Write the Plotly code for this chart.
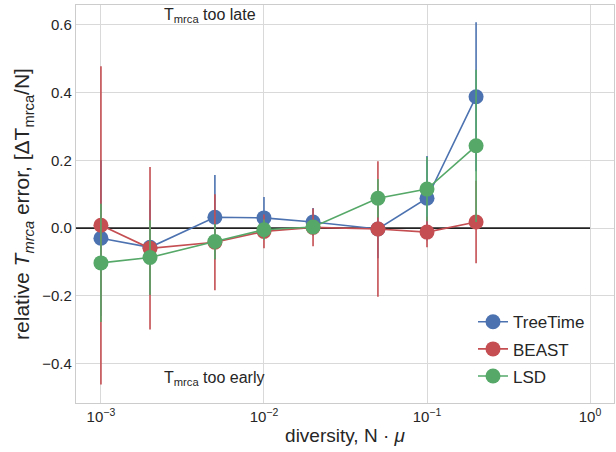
import plotly.graph_objects as go
import numpy as np

diversity = [0.001, 0.002, 0.005, 0.01, 0.02, 0.05, 0.1, 0.2]

treetime_mean = [-0.030, -0.057, 0.032, 0.030, 0.018, -0.003, 0.088, 0.388]
treetime_err = [0.230, 0.140, 0.125, 0.062, 0.041, 0.086, 0.125, 0.220]

beast_mean = [0.008, -0.060, -0.042, -0.010, 0.002, -0.003, -0.012, 0.018]
beast_err = [0.470, 0.240, 0.142, 0.050, 0.056, 0.200, 0.045, 0.122]

lsd_mean = [-0.103, -0.087, -0.040, -0.005, 0.003, 0.088, 0.115, 0.243]
lsd_err = [0.175, 0.110, 0.052, 0.030, 0.020, 0.057, 0.095, 0.225]

zero_line_x = [7e-4, 1.0]
zero_line_y = [0, 0]

series = [
    ("TreeTime", treetime_mean, treetime_err, "#4C72B0"),
    ("BEAST", beast_mean, beast_err, "#C44E52"),
    ("LSD", lsd_mean, lsd_err, "#55A868"),
]

fig = go.Figure()
fig.add_trace(go.Scatter(x=zero_line_x, y=zero_line_y, mode="lines",
                         line=dict(color="#222222", width=1.8), showlegend=False,
                         hoverinfo="skip"))
for name, m, e, c in series:
    fig.add_trace(go.Scatter(
        x=diversity, y=m, name=name, mode="lines+markers", legendgroup=name,
        line=dict(color=c, width=1.6),
        marker=dict(color=c, size=15),
        error_y=dict(type="data", array=e, visible=True, color=c, thickness=1.6, width=0),
    ))

font_family = "Liberation Sans, Arial, sans-serif"
fig.update_layout(
    width=616, height=452,
    margin=dict(l=76, r=2, t=5, b=49),
    paper_bgcolor="white", plot_bgcolor="white",
    font=dict(family=font_family, size=14, color="#262626"),
    showlegend=True,
    legend=dict(x=(473 - 76) / 538, y=0.022, xanchor="left", yanchor="bottom",
                font=dict(size=17, color="#262626"), bgcolor="rgba(255,255,255,0)",
                tracegroupgap=2),
    annotations=[
        dict(x=np.log10(0.00236), y=0.628, xref="x", yref="y", xanchor="left",
             text="T<sub>mrca</sub> too late", showarrow=False,
             font=dict(size=16, color="#262626")),
        dict(x=np.log10(0.00236), y=-0.445, xref="x", yref="y", xanchor="left",
             text="T<sub>mrca</sub> too early", showarrow=False,
             font=dict(size=16, color="#262626")),
    ],
)
fig.update_xaxes(
    type="log", range=[-3.153, 0.147], automargin=False,
    tickvals=[0.001, 0.01, 0.1, 1],
    ticktext=["10<sup>−3</sup>", "10<sup>−2</sup>", "10<sup>−1</sup>", "10<sup>0</sup>"],
    showgrid=True, gridcolor="#d9d9d9", gridwidth=1,
    showline=True, linecolor="#cccccc", linewidth=1.2, mirror=True,
    zeroline=False, ticks="", tickfont=dict(size=15),
    title=dict(text="diversity, N · <i>μ</i>", font=dict(size=19), standoff=4),
)
fig.update_yaxes(
    range=[-0.517, 0.659], automargin=False,
    tickvals=[-0.4, -0.2, 0.0, 0.2, 0.4, 0.6],
    ticktext=["−0.4", "−0.2", "0.0", "0.2", "0.4", "0.6"],
    showgrid=True, gridcolor="#d9d9d9", gridwidth=1,
    showline=True, linecolor="#cccccc", linewidth=1.2, mirror=True,
    zeroline=False, ticks="", tickfont=dict(size=15),
    title=dict(text="relative <i>T<sub>mrca</sub></i> error, [ΔT<sub>mrca</sub>/N]",
               font=dict(size=21), standoff=6),
)

fig.write_html("out.html", config={"displayModeBar": False},
               post_script="document.body.style.margin='0';")
